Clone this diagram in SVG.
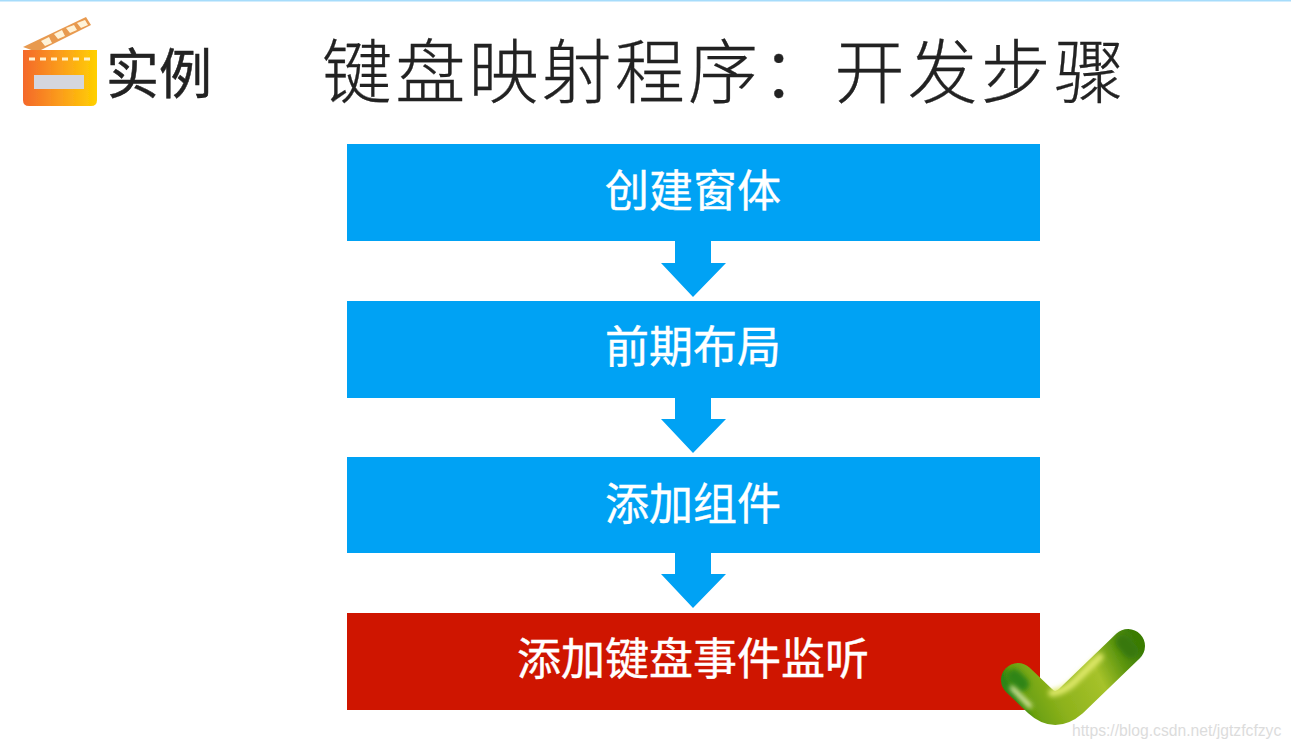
<svg xmlns="http://www.w3.org/2000/svg" width="1291" height="748" viewBox="0 0 1291 748">
<style>
text{font-family:"Noto Sans CJK SC","Liberation Sans",sans-serif;}
.box{fill:#00a2f4}
.lbl{fill:#fff;font-size:44px;text-anchor:middle;font-weight:400;stroke:#fff;stroke-width:0.4}
.arrow{fill:#00a2f4}
</style>
<defs>
<linearGradient id="clap" x1="0" y1="0" x2="1" y2="0"><stop offset="0" stop-color="#f4682a"/><stop offset="0.5" stop-color="#fb9d1c"/><stop offset="1" stop-color="#ffd000"/></linearGradient>
<linearGradient id="chk2" gradientUnits="userSpaceOnUse" x1="1135" y1="640" x2="1015" y2="700"><stop offset="0" stop-color="#3a7c06"/><stop offset="0.16" stop-color="#5d960f"/><stop offset="0.36" stop-color="#a6c22a"/><stop offset="0.7" stop-color="#8db21c"/><stop offset="0.92" stop-color="#6aa010"/><stop offset="1" stop-color="#2f8412"/></linearGradient>
<filter id="soft" filterUnits="userSpaceOnUse" x="0" y="0" width="1291" height="748"><feGaussianBlur stdDeviation="0.7"/></filter>
<filter id="soft2" filterUnits="userSpaceOnUse" x="990" y="620" width="170" height="120"><feGaussianBlur stdDeviation="2.5"/></filter>
<path id="arr" d="M675 0V22H661L693 56L726 22H711V0Z"/>
</defs>
<rect width="1291" height="748" fill="#fff"/>
<rect width="1291" height="1.5" fill="#a6dcfb"/>

<g id="logo" filter="url(#soft)">
<path d="M23 47L86 17L91 25L37 52Z" fill="#e89a50"/>
<path d="M41 41L49 37L52 43L45 46ZM54 34L62 30L65 36L58 39ZM66 28L74 25L77 30L70 33ZM77 23L85 20L88 25L81 28Z" fill="#fff3d8"/>
<path d="M23 50H97V100Q97 106 91 106H29Q23 106 23 100Z" fill="url(#clap)"/>
<path d="M29 59H90" stroke="#fff3d0" stroke-width="3" stroke-dasharray="6 5" fill="none"/>
<rect x="34" y="75" width="50" height="14" fill="#d4d6de"/>
</g>
<text id="logo-label" x="106" y="94" font-size="54" fill="#222" font-weight="400" stroke="#222" stroke-width="0.5" textLength="106" lengthAdjust="spacingAndGlyphs">实例</text>

<text id="title" x="322" y="98" font-size="70" fill="#222" font-weight="300" stroke="#222" stroke-width="0.3" textLength="802">键盘映射程序：开发步骤</text>

<g id="connectors" class="arrow">
<use href="#arr" y="241"/>
<use href="#arr" y="397"/>
<use href="#arr" y="552"/>
</g>

<g id="step1"><rect class="box" x="347" y="144" width="693" height="97"/><text class="lbl" x="693" y="207">创建窗体</text></g>
<g id="step2"><rect class="box" x="347" y="301" width="693" height="97"/><text class="lbl" x="693" y="363">前期布局</text></g>
<g id="step3"><rect class="box" x="347" y="457" width="693" height="96"/><text class="lbl" x="693" y="520">添加组件</text></g>
<g id="step4"><rect x="347" y="613" width="693" height="97" fill="#cf1500"/><text class="lbl" x="693" y="675">添加键盘事件监听</text></g>

<g id="check">
<path d="M1018 680L1040 701Q1055 715 1071 701L1128 646" fill="none" stroke="url(#chk2)" stroke-width="34" stroke-linecap="round" stroke-linejoin="round" filter="url(#soft)"/>
<path d="M1052 693Q1062 692 1072 684L1100 657" fill="none" stroke="#dfe96a" stroke-width="7" stroke-linecap="round" filter="url(#soft2)"/>
<path d="M1014 676L1022 684" fill="none" stroke="#2e8414" stroke-width="14" stroke-linecap="round" filter="url(#soft2)"/>
<path d="M1123 642L1131 651" fill="none" stroke="#38780a" stroke-width="15" stroke-linecap="round" filter="url(#soft2)"/>
<path d="M1012 688L1030 706" fill="none" stroke="#eef4c0" stroke-width="4" stroke-linecap="round" filter="url(#soft2)"/>
</g>
<text id="watermark" x="1072" y="736" font-size="15.7" fill="#dcdcdc" style="font-family:'Liberation Sans',sans-serif">https://blog.csdn.net/jgtzfcfzyc</text>
</svg>
